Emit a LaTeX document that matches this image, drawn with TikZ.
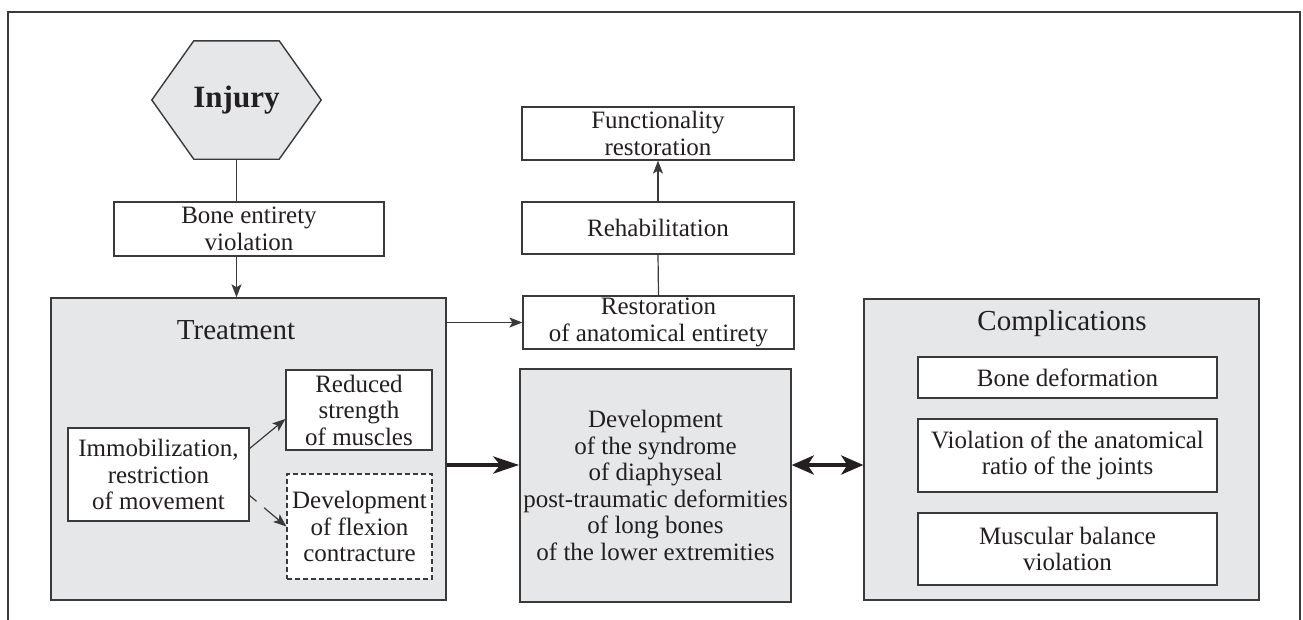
\documentclass[tikz,border=0pt]{standalone}
\usepackage{fontspec}
\setmainfont{Liberation Serif}
\usetikzlibrary{arrows.meta,calc}
\definecolor{panelgray}{HTML}{E6E7E8}
\definecolor{edgegray}{HTML}{3A3A3A}
\definecolor{inkblack}{HTML}{231F20}
\tikzset{
	box/.style={draw=edgegray, fill=white, line width=1.2pt, align=center, inner sep=0pt, text=inkblack, font=\fontsize{25}{26.5}\selectfont},
	panel/.style={draw=edgegray, fill=panelgray, line width=1.4pt, inner sep=0pt},
	heading/.style={text=inkblack, font=\fontsize{29}{33}\selectfont},
	link/.style={draw=edgegray, line width=1.2pt},
	arr/.style={link, -{Stealth[length=13pt,width=10pt,inset=3pt]}},
	bigarr/.style={draw=inkblack, line width=4.5pt, -{Stealth[length=26pt,width=17pt,inset=7pt]}},
	dblarr/.style={draw=inkblack, line width=4.5pt, {Stealth[length=22pt,width=19pt,inset=6pt]}-{Stealth[length=22pt,width=19pt,inset=6pt]}}
}
\begin{document}
\begin{tikzpicture}[x=1pt, y=-1pt]
	\useasboundingbox (0,0) rectangle (1303,619);
	\draw[edgegray, line width=1.5pt] (8,630) |- (1300,12) -- (1300,630);
	\node[minimum width=169pt, minimum height=118pt, inner sep=0pt] (injury) at (236.5,100) {};
	\draw[panel] (injury.west) -- ($(injury.north west)+(42,0)$) -- ($(injury.north east)+(-42,0)$) -- (injury.east) -- ($(injury.south east)+(-42,0)$) -- ($(injury.south west)+(42,0)$) -- cycle;
	\node[text=inkblack, font=\fontsize{31}{35}\selectfont\bfseries] (injurylabel) at (injury) {Injury};
	\node[box, minimum width=270pt, minimum height=54pt] (boneviol) at (249,229) {Bone entirety\\violation};
	\node[panel, minimum width=395pt, minimum height=302pt] (treat) at (248.5,449) {};
	\node[heading] (treattitle) at (236,330) {Treatment};
	\node[box, minimum width=181pt, minimum height=93pt] (immob) at (158.5,474.5) {Immobilization,\\restriction\\of movement};
	\node[box, minimum width=146pt, minimum height=80pt] (reduced) at (359,410) {Reduced\\strength\\of muscles};
	\node[box, dash pattern=on 5pt off 3pt, minimum width=145pt, minimum height=105pt] (flexion) at (359.5,526.5) {Development\\of flexion\\contracture};
	\node[box, minimum width=272pt, minimum height=53pt] (funct) at (658,133.5) {Functionality\\restoration};
	\node[box, minimum width=272pt, minimum height=52pt] (rehab) at (658,228) {Rehabilitation};
	\node[box, minimum width=271pt, minimum height=53pt] (restor) at (658.5,322.5) {Restoration\\of anatomical entirety};
	\node[box, fill=panelgray, line width=1.4pt, minimum width=271pt, minimum height=233pt] (syndrome) at (655.5,485.5) {Development\\of the syndrome\\of diaphyseal\\post-traumatic deformities\\of long bones\\of the lower extremities};
	\node[panel, minimum width=395pt, minimum height=301pt] (compl) at (1061.5,449.5) {};
	\node[heading] (compltitle) at (1062,324) {Complications};
	\node[box, minimum width=299pt, minimum height=41pt] (bonedef) at (1067.5,377.5) {Bone deformation};
	\node[box, minimum width=299pt, minimum height=73pt] (ratio) at (1067.5,455.5) {Violation of the anatomical\\ratio of the joints};
	\node[box, minimum width=299pt, minimum height=72pt] (balance) at (1067.5,549) {Muscular balance\\violation};
	\draw[link] (injury.south) -- (boneviol.north -| injury.south);
	\draw[arr] (boneviol.south -| injury.south) -- (treat.north -| injury.south);
	\draw[arr] (treat.east |- restor.west) -- (restor.west);
	\draw[link] (restor.north) -- (rehab.south);
	\draw[arr] (rehab.north) -- (funct.south);
	\draw[arr] ($(immob.east)+(0,-26)$) -- ($(reduced.west)+(0,9)$);
	\draw[arr, dash pattern=on 9pt off 10pt on 60pt] ($(immob.east)+(0,21)$) -- (flexion.west);
	\draw[bigarr] ($(treat.east)+(0,16)$) coordinate (midline) -- (midline -| syndrome.west);
	\draw[dblarr] (midline -| syndrome.east) -- (midline -| compl.west);
\end{tikzpicture}
\end{document}
